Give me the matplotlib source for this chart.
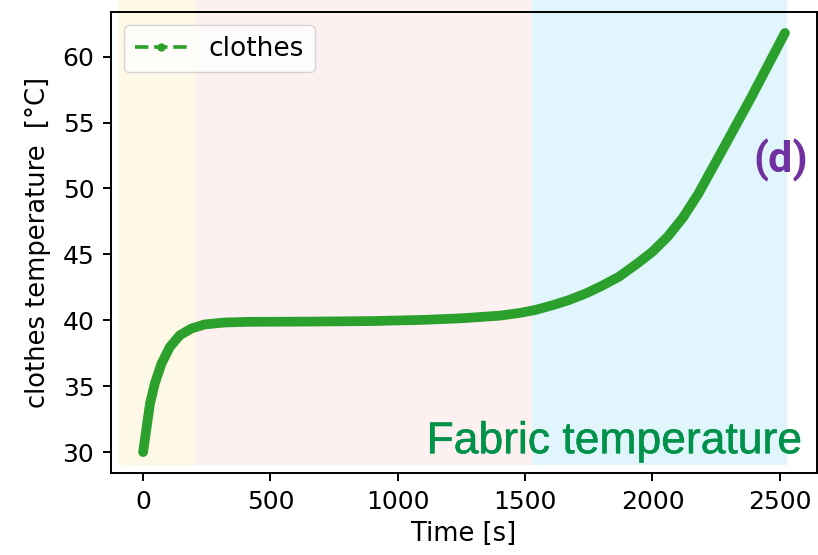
import matplotlib
matplotlib.use("Agg")
import matplotlib.pyplot as plt
import matplotlib.patheffects as pe
from matplotlib.lines import Line2D

# clothes temperature
time_s = [0, 14, 27, 46, 72, 105, 144, 189, 241, 319, 411, 658, 900, 1100,
          1250, 1400, 1477, 1540, 1607, 1670, 1738, 1800, 1868, 1940, 2000,
          2060, 2120, 2180, 2260, 2390, 2520]
temp_c = [30.0, 31.9, 33.67, 35.2, 36.7, 37.97, 38.86, 39.37, 39.68, 39.83,
          39.88, 39.9, 39.94, 40.03, 40.15, 40.35, 40.55, 40.78, 41.14, 41.52,
          42.03, 42.6, 43.3, 44.3, 45.2, 46.35, 47.8, 49.6, 52.4, 57.0, 61.8]

# background phase bands (time edges) and their colours
band_edges = [-100, 209, 1528, 2527]
band_colors = ['#fef8e6', '#fdf0f0', '#e0f6fc']

line_color = '#2ca02c'

fig = plt.figure(figsize=(8.18, 5.55), dpi=100)
ax = fig.add_axes([0.1357, 0.1477, 0.8631, 0.8307])

ax.plot(time_s, temp_c, color=line_color, lw=7, solid_capstyle='round',
        solid_joinstyle='round', zorder=3)
ax.set_xlim(ax.get_xlim())
ax.set_ylim(ax.get_ylim())

ylo, yhi = ax.get_ylim()
band_bottom = (29.0 - ylo) / (yhi - ylo)
for x0, x1, c in zip(band_edges[:-1], band_edges[1:], band_colors):
    ax.axvspan(x0, x1, ymin=band_bottom, ymax=1.05, color=c, lw=0,
               clip_on=False, zorder=0)

ax.set_xticks([0, 500, 1000, 1500, 2000, 2500])
ax.set_yticks([30, 35, 40, 45, 50, 55, 60])
ax.tick_params(labelsize=18, length=6, width=1.4, pad=6)
for sp in ax.spines.values():
    sp.set_linewidth(1.4)

ax.set_xlabel('Time [s]', fontsize=18.5, labelpad=5)
ax.set_ylabel('clothes temperature  [°C]', fontsize=18.5, labelpad=8)

proxy = Line2D([], [], color=line_color, ls='--', marker='.', lw=2.6,
               markersize=10)
ax.legend([proxy], ['clothes'], loc='upper left', fontsize=19,
          handlelength=2.0, framealpha=0.8)

ax.text(0.987, 0.679, '(d)', transform=ax.transAxes, ha='right', va='center',
        fontsize=31, fontweight='bold', color='#7030a0',
        family='Roboto', zorder=5)
ax.text(0.979, 0.043, 'Fabric temperature', transform=ax.transAxes,
        ha='right', va='baseline', fontsize=32, color='#00924a',
        family='Liberation Sans', zorder=5,
        path_effects=[pe.withStroke(linewidth=0.4, foreground='#00924a')])

fig.savefig('out.png', dpi=100)
